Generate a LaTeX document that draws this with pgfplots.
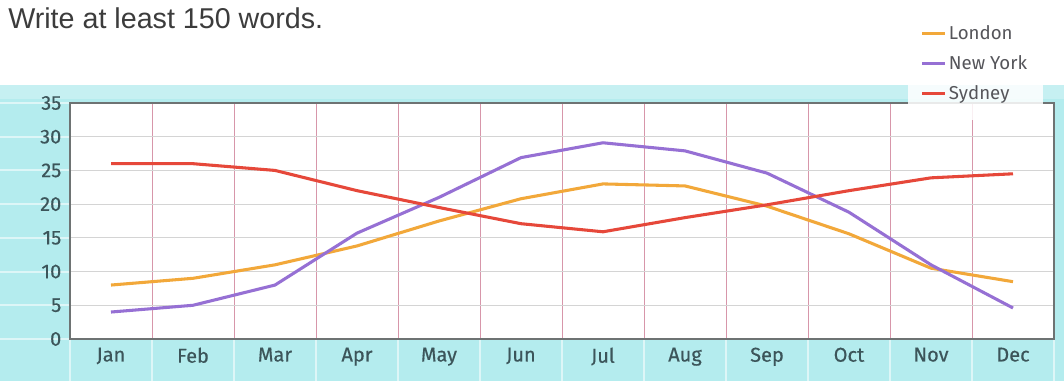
\documentclass[border=0pt]{standalone}
\usepackage{pgfplots}
\pgfplotsset{compat=1.18}
\usepackage{fontspec}
\setmainfont{Liberation Sans}
\newfontfamily\labelfont{Fira Sans}[FakeBold=0.4]
\newfontfamily\legfont{Fira Sans}
\definecolor{bgcyan}{RGB}{180,236,238}
\definecolor{londonc}{RGB}{242,168,58}
\definecolor{nyc}{RGB}{150,112,212}
\definecolor{sydc}{RGB}{230,72,58}
\definecolor{gridred}{RGB}{215,150,170}
\definecolor{gridgray}{RGB}{212,212,212}
\definecolor{axisgray}{RGB}{110,115,115}
\definecolor{labelc}{RGB}{60,85,90}
\definecolor{titlec}{RGB}{60,60,60}
\definecolor{legc}{RGB}{85,85,90}

\pgfplotstableread{
x London NewYork Sydney
0 8.0 4.0 26.0
1 9.0 5.0 26.0
2 11.0 8.0 25.0
3 13.8 15.7 22.0
4 17.5 21.0 19.5
5 20.8 26.9 17.1
6 23.0 29.1 15.9
7 22.7 27.9 18.0
8 19.7 24.6 19.9
9 15.6 18.8 22.0
10 10.5 11.0 23.9
11 8.5 4.6 24.5
}\temps

\begin{document}
\begin{tikzpicture}[x=0.75pt,y=0.75pt]
\path[use as bounding box] (0,0) rectangle (1064,381);
\fill[bgcyan] (0,0) rectangle (1064,296);
\fill[white,opacity=0.25] (0,282) rectangle (1064,296);
% light stripes in the label bands
\foreach \v in {0,5,...,35} {
  \draw[white,opacity=0.55,line width=1.5pt] (0,{42+6.743*\v}) -- (70,{42+6.743*\v});
}
\foreach \k in {0,...,12} {
  \draw[white,opacity=0.55,line width=1.5pt] ({70+82*\k},0) -- ({70+82*\k},42);
}
\node[anchor=north west, inner sep=0, text=titlec, font=\fontsize{21.5}{24}\selectfont] at (8,374) {Write at least 150 words.};
\begin{axis}[
  at={(52.5pt,31.5pt)}, anchor=south west,
  width=738pt, height=177pt, scale only axis,
  xmin=-0.5, xmax=11.5, ymin=0, ymax=35,
  axis background/.style={fill=white},
  xtick={0,...,11},
  xticklabels={Jan,Feb,Mar,Apr,May,Jun,Jul,Aug,Sep,Oct,Nov,Dec},
  ytick={0,5,...,35},
  minor xtick={0.5,1.5,...,10.5},
  xminorgrids, ymajorgrids,
  minor x grid style={color=gridred, line width=0.6pt},
  major y grid style={color=gridgray, line width=0.6pt},
  axis line style={color=axisgray, line width=0.9pt},
  major tick style={draw=none}, minor tick style={draw=none},
  /pgf/number format/assume math mode=true,
  ticklabel style={font=\labelfont\fontsize{15}{17}\selectfont, text=labelc},
  yticklabel style={xshift=-3pt},
  xticklabel style={yshift=-3pt},
  legend style={at={(0.851,1.41)}, anchor=north west, draw=none,
    fill=white, fill opacity=0.85, text opacity=1,
    font=\legfont\fontsize{14}{16}\selectfont, text=legc,
    row sep=6.5pt, inner xsep=10pt, inner ysep=12pt,
    cells={anchor=west}},
  legend image code/.code={\draw[#1,line width=2pt] (0pt,0pt) -- (17pt,0pt);},
  every axis plot/.append style={line width=2.3pt, no markers},
]
\addplot[color=londonc] table[x=x,y=London] {\temps};
\addlegendentry{London}
\addplot[color=nyc] table[x=x,y=NewYork] {\temps};
\addlegendentry{New York}
\addplot[color=sydc] table[x=x,y=Sydney] {\temps};
\addlegendentry{Sydney}
\end{axis}
\end{tikzpicture}
\end{document}
